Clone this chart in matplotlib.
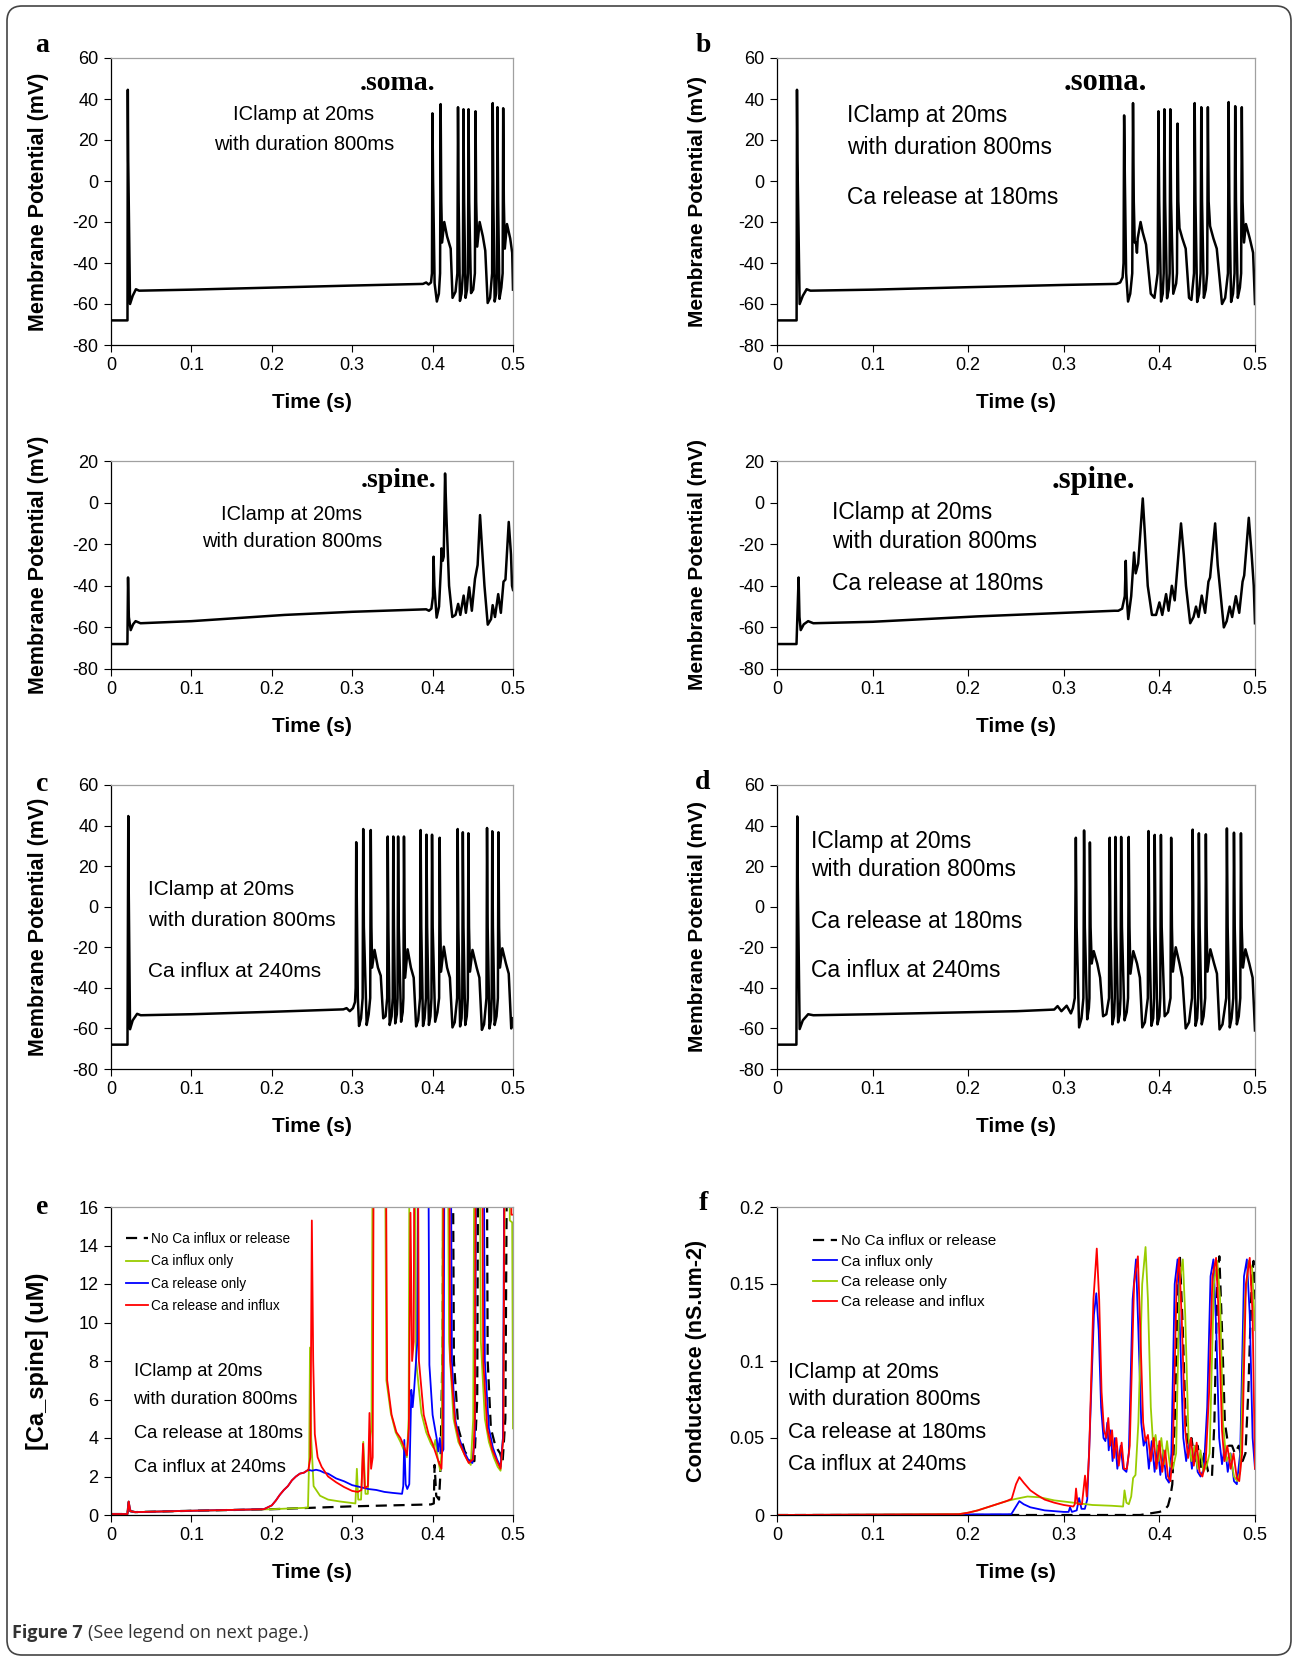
import matplotlib
matplotlib.use('Agg')
import matplotlib.pyplot as plt
from matplotlib.patches import FancyBboxPatch

plt.rcParams['font.family'] = ['Liberation Sans', 'DejaVu Sans']
plt.rcParams['axes.unicode_minus'] = False

## Data (time in s, membrane potential in mV)

soma_a = [(0,-68),(0.0205,-68),(0.0209,44.5),(0.0214,10),(0.0237,-60),(0.027,-56),(0.031,-52.8),(0.035,-53.5),
          (0.1,-53),(0.2,-52),(0.3,-51),(0.388,-50.2),(0.392,-49.5),(0.395,-50.5),(0.398,-49.5),
          (0.3992,-45),(0.3998,33),(0.4006,0),(0.4025,-50),(0.4053,-58.8),(0.4078,-55),(0.4093,-45),(0.41,37.5),
          (0.4108,-10),(0.4118,-30),(0.4145,-20),(0.418,-27),(0.4225,-33),(0.4248,-57),
          (0.4285,-54),(0.4308,-45),(0.4316,36),(0.4324,-10),(0.434,-58.5),(0.436,-55),(0.4377,-45),(0.4384,35),
          (0.4392,-10),(0.441,-57),(0.4428,-53),(0.444,-45),(0.4447,35),(0.4455,-10),(0.4478,-54.7),(0.4505,-53),
          (0.4526,-45),(0.4534,34),(0.4542,-10),(0.4555,-32),(0.4585,-20),(0.4625,-27),(0.4655,-34),(0.4685,-59.5),
          (0.4715,-57),(0.474,-45),(0.4748,38),(0.4756,-10),(0.4772,-58.8),(0.479,-55),(0.48,-45),(0.4807,36),
          (0.4815,-10),(0.4832,-57.5),(0.4855,-52),(0.4871,-45),(0.4878,35.5),(0.4886,-10),(0.4898,-33),
          (0.4925,-21),(0.4965,-28),(0.499,-35),(0.5,-53)]

soma_b = [(0,-68),(0.0205,-68),(0.0209,44.5),(0.0214,10),(0.0237,-60),(0.027,-56),(0.031,-52.8),(0.035,-53.5),
          (0.1,-53),(0.2,-51.8),(0.3,-50.7),(0.355,-50.2),(0.359,-49.5),(0.3615,-47),
          (0.3625,-40),(0.3631,32),(0.3639,0),(0.3652,-45),(0.3672,-58.8),(0.3695,-55),(0.3716,-45),(0.3724,38),
          (0.3732,-10),(0.3742,-30),(0.3755,-30),(0.3765,-35),(0.3773,-28),(0.3803,-20),(0.3825,-25),(0.386,-31),
          (0.391,-55),(0.3948,-57),(0.3982,-45),(0.399,34),(0.3998,-10),(0.4017,-58.8),(0.4035,-55),(0.4045,-45),
          (0.4052,35),(0.406,-10),(0.408,-57.2),(0.4097,-53),(0.4107,-45),(0.4114,35),(0.4122,-10),(0.4145,-55),
          (0.4175,-50),(0.4184,-45),(0.419,28),(0.4198,-10),(0.421,-23),(0.424,-28),(0.4275,-33),(0.431,-57),
          (0.4335,-58),(0.4362,-45),(0.4369,38),(0.4377,-10),(0.4395,-59),(0.4415,-55),(0.4431,-45),(0.4438,36),
          (0.4446,-10),(0.4465,-57),(0.4485,-53),(0.45,-45),(0.4507,36),(0.4515,-10),(0.453,-22),(0.4565,-28),
          (0.46,-33),(0.4655,-60),(0.4688,-57),(0.4717,-45),(0.4724,38.5),(0.4732,-10),(0.475,-59),(0.477,-55),
          (0.4786,-45),(0.4793,36.5),(0.4801,-10),(0.482,-57),(0.4842,-52),(0.4855,-45),(0.4862,36),(0.487,-10),
          (0.4885,-30),(0.4905,-21),(0.4945,-28),(0.498,-35),(0.5,-60)]

spine_a = [(0,-68),(0.0204,-68),(0.0212,-36),(0.0222,-55),(0.0245,-61.3),(0.0275,-58.5),(0.0306,-57),(0.0367,-58),
           (0.1,-57),(0.216,-54),(0.3,-52.5),(0.392,-51.3),(0.3955,-52),(0.3985,-51),(0.4005,-45),(0.4012,-26),
           (0.4022,-40),(0.405,-55.3),(0.408,-50),(0.4105,-30),(0.411,-22),(0.4125,-28),(0.4138,-26),(0.4155,14),
           (0.4175,-10),(0.4205,-40),(0.4245,-55),(0.4285,-54),(0.4318,-48.7),(0.4345,-54),(0.4386,-44.7),
           (0.4414,-53),(0.4455,-40.7),(0.4488,-52),(0.4527,-36.7),(0.456,-30),(0.459,-6),(0.4612,-20),
           (0.4645,-40),(0.4686,-58.7),(0.4727,-56),(0.4747,-49.3),(0.4776,-55),(0.4816,-44),(0.4849,-53),
           (0.4882,-38),(0.4906,-37),(0.4947,-9.3),(0.4975,-25),(0.4988,-40),(0.5,-42)]

spine_b = [(0,-68),(0.0204,-68),(0.0226,-36),(0.0235,-55),(0.0248,-61.3),(0.028,-58.5),(0.0326,-57),(0.038,-58),
           (0.1,-57.3),(0.21,-54.7),(0.3,-53),(0.353,-52),(0.357,-52),(0.361,-51),(0.3638,-45),(0.3648,-28),
           (0.3658,-45),(0.3674,-56),(0.3705,-45),(0.3735,-24),(0.3752,-34),(0.3778,-29.3),(0.3826,2),
           (0.3848,-15),(0.3878,-40),(0.3922,-54),(0.3965,-54),(0.4,-48),(0.403,-54),(0.407,-44),(0.4096,-52),
           (0.413,-40),(0.416,-47),(0.4226,-10),(0.4255,-25),(0.4278,-40),(0.4322,-58),(0.4357,-55),(0.4383,-50),
           (0.4409,-55),(0.4443,-44.7),(0.4478,-53),(0.4513,-38),(0.453,-36),(0.4583,-10),(0.461,-30),
           (0.4674,-60),(0.4704,-57),(0.4735,-50),(0.4761,-55),(0.48,-45),(0.4835,-53),(0.487,-38),(0.4887,-35),
           (0.4935,-7.3),(0.4965,-25),(0.4987,-40),(0.5,-58)]

soma_c = [(0,-68),(0.0205,-68),(0.0215,44.7),(0.022,10),(0.0237,-60.4),(0.027,-56),(0.0325,-52.8),(0.037,-53.5),
          (0.1,-53),(0.2,-51.8),(0.289,-50.6),(0.293,-50),(0.297,-51.5),(0.301,-50),(0.3035,-47),(0.3043,-40),
          (0.305,31.8),(0.3058,0),(0.307,-45),(0.3085,-58.8),(0.311,-55),(0.313,-45),(0.3137,38.3),(0.3145,-10),
          (0.318,-58.3),(0.3205,-53),(0.3224,-45),(0.3231,37.8),(0.3239,-10),(0.3248,-30),(0.3278,-21.3),
          (0.332,-30),(0.3355,-34),(0.3386,-55),(0.3415,-54),(0.3435,-45),(0.3442,34.6),(0.345,-10),(0.3466,-58.3),
          (0.349,-54),(0.3504,-45),(0.3511,34.6),(0.3519,-10),(0.3535,-57.5),(0.3555,-53),(0.3564,-45),
          (0.3571,34.6),(0.3579,-10),(0.3608,-56.7),(0.3628,-52),(0.3637,-45),(0.3644,34.6),(0.3652,-10),
          (0.3658,-35),(0.3689,-21),(0.373,-30),(0.3765,-35),(0.3795,-59),(0.382,-56),(0.3844,-45),(0.3851,37.8),
          (0.3859,-10),(0.3881,-58.8),(0.39,-55),(0.3917,-45),(0.3924,35.5),(0.3932,-10),(0.3954,-58.3),
          (0.3973,-54),(0.3986,-45),(0.3993,35.5),(0.4001,-10),(0.4032,-56.7),(0.406,-52),(0.4081,-45),
          (0.4088,34),(0.4096,-10),(0.4105,-32),(0.414,-19.7),(0.418,-30),(0.4215,-35),(0.4247,-59.5),
          (0.4275,-57),(0.4305,-45),(0.4312,38.3),(0.432,-10),(0.4342,-59),(0.436,-55),(0.4369,-45),(0.4376,36.7),
          (0.4384,-10),(0.4406,-58.3),(0.4425,-54),(0.4438,-45),(0.4445,36.2),(0.4453,-10),(0.4465,-32),
          (0.4496,-21.3),(0.4548,-30),(0.4582,-35),(0.4613,-60.7),(0.464,-58),(0.467,-45),(0.4677,38.8),
          (0.4685,-10),(0.4707,-60),(0.4725,-56),(0.4735,-45),(0.4742,37.2),(0.475,-10),(0.4772,-58.3),
          (0.4795,-54),(0.4812,-45),(0.4819,36.7),(0.4827,-10),(0.4838,-30),(0.4867,-20.5),(0.4912,-28),
          (0.4947,-33),(0.4978,-60),(0.5,-55)]

soma_d = [(0,-68),(0.0203,-68),(0.0212,44.5),(0.0218,10),(0.0237,-60.3),(0.027,-56),(0.0326,-53),(0.038,-53.5),
          (0.1,-53),(0.251,-51.5),(0.29,-50.7),(0.2935,-49),(0.2975,-51.5),(0.303,-48.8),(0.3074,-52.6),
          (0.3095,-50),(0.3115,-45),(0.3126,34),(0.3134,-10),(0.316,-59.5),(0.3185,-55),(0.3205,-45),(0.3212,37.6),
          (0.322,-10),(0.3245,-55.5),(0.3262,-50),(0.3268,-45),(0.3273,31.7),(0.328,-10),(0.3292,-28),
          (0.3313,-21.9),(0.335,-28),(0.338,-35),(0.3411,-54),(0.3445,-53),(0.3473,-45),(0.348,34),(0.3488,-10),
          (0.3508,-58),(0.3525,-54),(0.3533,-45),(0.354,34.4),(0.3548,-10),(0.3568,-57),(0.3585,-53),(0.3593,-45),
          (0.36,34.4),(0.3608,-10),(0.3635,-56),(0.3658,-52),(0.3672,-45),(0.3679,34.4),(0.3687,-10),(0.3697,-33),
          (0.3727,-21.9),(0.3766,-28),(0.3796,-35),(0.3821,-59.5),(0.3848,-57),(0.3879,-45),(0.3886,37.3),
          (0.3894,-10),(0.3916,-58.7),(0.3935,-55),(0.3944,-45),(0.3951,35.4),(0.3959,-10),(0.398,-58),
          (0.4,-54),(0.4009,-45),(0.4016,35.4),(0.4024,-10),(0.4055,-54),(0.409,-52),(0.4116,-45),(0.4123,34),
          (0.4131,-10),(0.4141,-32),(0.4171,-20),(0.421,-28),(0.424,-35),(0.4275,-60),(0.431,-57),(0.4341,-45),
          (0.4348,38),(0.4356,-10),(0.4378,-58.7),(0.4395,-55),(0.4406,-45),(0.4413,36.2),(0.4421,-10),
          (0.4443,-58),(0.4462,-54),(0.4479,-45),(0.4486,35.7),(0.4494,-10),(0.4503,-32),(0.4533,-21),
          (0.4572,-28),(0.4602,-33),(0.4629,-60.5),(0.466,-58),(0.4699,-45),(0.4706,38.6),(0.4714,-10),
          (0.4736,-59.5),(0.4755,-55),(0.4773,-45),(0.478,36.5),(0.4788,-10),(0.481,-58),(0.483,-54),
          (0.4846,-45),(0.4853,36.2),(0.4861,-10),(0.4874,-30),(0.49,-21),(0.494,-28),(0.4975,-35),(0.5,-61)]

## [Ca_spine] (uM); values above 16 run off the top of the axes
ca_none = [(0,0.05),(0.0205,0.05),(0.022,0.7),(0.024,0.2),(0.03,0.15),(0.1,0.22),(0.2,0.3),(0.3,0.45),(0.398,0.55),
           (0.4015,0.6),(0.4025,2.6),(0.4045,1.0),(0.408,0.8),(0.4095,2.0),(0.4125,9),(0.4145,30),(0.424,30),
           (0.4265,8),(0.432,4.5),(0.44,3.3),(0.4485,2.8),(0.452,2.8),(0.4555,6),(0.4575,30),(0.4665,30),
           (0.4685,8),(0.4725,4.5),(0.478,3.6),(0.484,3.2),(0.487,2.7),(0.4905,5),(0.494,30),(0.5,30)]
ca_influx = [(0,0.05),(0.0205,0.05),(0.022,0.7),(0.024,0.2),(0.03,0.15),(0.1,0.22),(0.2,0.3),(0.245,0.38),
             (0.2465,3),(0.2475,8.7),(0.249,4),(0.252,1.5),(0.26,1.0),(0.27,0.8),(0.285,0.7),(0.304,0.6),
             (0.3058,2.4),(0.3075,0.8),(0.311,0.8),(0.3138,3.8),(0.3165,1.1),(0.3195,1.1),(0.321,3.5),(0.3225,4.0),
             (0.324,4.5),(0.3265,30),(0.3395,30),(0.3425,7),(0.348,5.3),(0.354,4.3),(0.36,3.8),(0.365,3.3),
             (0.368,3.0),(0.3702,5),(0.372,30),(0.377,30),(0.3795,8),(0.386,5.3),(0.392,4.3),(0.398,3.7),
             (0.401,3.5),(0.4035,3.9),(0.4065,2.9),(0.4095,2.3),(0.4115,3.5),(0.4135,30),(0.4175,30),(0.4205,9),
             (0.426,5),(0.432,3.8),(0.438,3.3),(0.444,2.8),(0.4475,2.6),(0.4505,5),(0.4515,15.5),(0.4535,30),
             (0.4575,30),(0.46,9),(0.465,5),(0.47,3.8),(0.476,3.0),(0.481,2.5),(0.4845,2.3),(0.4875,4),
             (0.4895,15.8),(0.4915,30),(0.495,30),(0.496,15.3),(0.499,15.2),(0.5,4.5)]
ca_release = [(0,0.05),(0.0205,0.05),(0.022,0.7),(0.024,0.2),(0.03,0.15),(0.1,0.22),(0.19,0.3),(0.2,0.5),
              (0.205,0.75),(0.21,1.05),(0.215,1.3),(0.22,1.5),(0.225,1.8),(0.23,2.0),(0.235,2.15),(0.24,2.2),
              (0.2455,2.35),(0.25,2.3),(0.255,2.35),(0.26,2.3),(0.265,2.2),(0.27,2.15),(0.28,1.9),(0.29,1.75),
              (0.3,1.55),(0.31,1.45),(0.32,1.35),(0.33,1.3),(0.34,1.2),(0.35,1.15),(0.362,1.1),(0.3635,1.5),
              (0.3648,3.9),(0.3665,1.6),(0.3685,1.35),(0.371,1.6),(0.3735,6.5),(0.3752,5.6),(0.377,6.5),
              (0.381,9),(0.3835,30),(0.3935,30),(0.396,7.8),(0.4,5.2),(0.4025,4.6),(0.405,4.0),(0.407,3.3),
              (0.409,4.0),(0.411,3.2),(0.4135,3.4),(0.4155,30),(0.4215,30),(0.424,8),(0.428,5),(0.433,4),
              (0.438,3.4),(0.444,2.9),(0.4495,2.7),(0.4525,4),(0.4555,30),(0.4625,30),(0.465,8),(0.47,4.5),
              (0.475,3.5),(0.48,2.9),(0.4845,2.5),(0.4875,4),(0.4905,30),(0.5,30)]
ca_both = [(0,0.05),(0.0205,0.05),(0.022,0.7),(0.024,0.2),(0.03,0.15),(0.1,0.22),(0.19,0.3),(0.2,0.5),
           (0.205,0.75),(0.21,1.05),(0.215,1.3),(0.22,1.5),(0.225,1.8),(0.23,2.0),(0.235,2.15),(0.24,2.2),
           (0.2455,2.35),(0.248,3),(0.2498,15.3),(0.2515,8),(0.2535,4.2),(0.257,3.0),(0.262,2.5),(0.27,2.0),
           (0.28,1.7),(0.29,1.45),(0.3,1.25),(0.307,1.2),(0.3115,1.3),(0.3135,3.7),(0.3155,1.4),(0.3195,1.5),
           (0.3215,5.3),(0.3235,2.4),(0.3255,3),(0.3275,30),(0.3405,30),(0.3435,7),(0.349,5.2),(0.355,4.3),
           (0.36,4.0),(0.365,3.5),(0.368,3.1),(0.3705,4.5),(0.3725,15.7),(0.3745,8),(0.3765,9),(0.378,30),
           (0.3805,30),(0.383,8),(0.389,5.2),(0.395,4.2),(0.4,3.7),(0.404,3.2),(0.408,2.7),(0.411,2.4),
           (0.4125,4),(0.4145,30),(0.4195,30),(0.422,8),(0.428,4.8),(0.434,3.7),(0.44,3.1),(0.445,2.7),
           (0.4505,2.9),(0.4525,5),(0.4545,30),(0.4605,30),(0.463,8),(0.468,4.5),(0.474,3.4),(0.48,2.8),
           (0.4845,2.4),(0.488,4),(0.4905,30),(0.4965,30),(0.498,15.6),(0.5,15.6)]

## Conductance (nS.um-2)
g_none = [(0,0),(0.38,0),(0.39,0.001),(0.4,0.002),(0.405,0.003),(0.409,0.006),(0.4115,0.012),(0.4135,0.02),
          (0.416,0.06),(0.4195,0.15),(0.4215,0.167),(0.4245,0.12),(0.4275,0.06),(0.4305,0.045),(0.4335,0.05),
          (0.437,0.035),(0.44,0.045),(0.444,0.03),(0.447,0.04),(0.451,0.028),(0.455,0.025),(0.4575,0.06),
          (0.4605,0.15),(0.4627,0.168),(0.4655,0.12),(0.4685,0.06),(0.472,0.045),(0.476,0.045),(0.479,0.04),
          (0.483,0.045),(0.487,0.035),(0.49,0.04),(0.493,0.08),(0.4965,0.15),(0.4985,0.165),(0.5,0.14)]
g_influx = [(0,0),(0.245,0.0005),(0.2505,0.006),(0.2535,0.009),(0.258,0.007),(0.265,0.005),(0.28,0.003),
            (0.3,0.002),(0.305,0.002),(0.3065,0.005),(0.3085,0.002),(0.3135,0.003),(0.316,0.011),(0.3185,0.004),
            (0.322,0.004),(0.3245,0.01),(0.327,0.05),(0.3315,0.13),(0.334,0.144),(0.3365,0.12),(0.339,0.07),
            (0.3415,0.05),(0.3435,0.048),(0.3455,0.06),(0.347,0.042),(0.349,0.055),(0.351,0.035),(0.3535,0.05),
            (0.356,0.03),(0.3595,0.045),(0.362,0.03),(0.3655,0.028),(0.368,0.04),(0.372,0.14),(0.3755,0.166),
            (0.378,0.12),(0.381,0.06),(0.3835,0.045),(0.386,0.05),(0.389,0.03),(0.392,0.048),(0.395,0.028),
            (0.398,0.045),(0.401,0.026),(0.404,0.042),(0.407,0.024),(0.41,0.021),(0.4125,0.04),(0.416,0.15),
            (0.419,0.166),(0.4215,0.12),(0.425,0.05),(0.428,0.035),(0.431,0.048),(0.434,0.03),(0.437,0.045),
            (0.44,0.028),(0.443,0.025),(0.4465,0.03),(0.45,0.07),(0.4535,0.155),(0.4565,0.166),(0.4595,0.12),
            (0.4625,0.05),(0.4655,0.033),(0.4685,0.045),(0.4715,0.028),(0.4745,0.04),(0.478,0.022),(0.481,0.02),
            (0.4845,0.04),(0.4885,0.155),(0.4915,0.166),(0.4945,0.13),(0.4975,0.05),(0.5,0.03)]
g_release = [(0,0),(0.19,0.0005),(0.2,0.0015),(0.21,0.003),(0.22,0.005),(0.23,0.007),(0.24,0.009),(0.25,0.0105),
             (0.262,0.012),(0.275,0.0115),(0.29,0.0095),(0.31,0.008),(0.33,0.0065),(0.35,0.006),(0.362,0.0055),
             (0.3635,0.016),(0.3655,0.008),(0.368,0.007),(0.3705,0.012),(0.3725,0.024),(0.375,0.026),(0.378,0.06),
             (0.382,0.15),(0.3855,0.174),(0.388,0.14),(0.391,0.07),(0.3935,0.045),(0.396,0.052),(0.399,0.035),
             (0.402,0.05),(0.405,0.033),(0.408,0.048),(0.411,0.032),(0.414,0.03),(0.4175,0.04),(0.421,0.15),
             (0.4245,0.166),(0.427,0.13),(0.4305,0.05),(0.4335,0.035),(0.437,0.045),(0.44,0.03),(0.443,0.042),
             (0.446,0.028),(0.4495,0.032),(0.4525,0.04),(0.457,0.15),(0.4605,0.165),(0.4635,0.14),(0.4665,0.06),
             (0.47,0.035),(0.474,0.04),(0.478,0.025),(0.4815,0.022),(0.4845,0.028),(0.4895,0.14),(0.4935,0.165),
             (0.497,0.16),(0.5,0.12)]
g_both = [(0,0),(0.19,0.0005),(0.2,0.0015),(0.21,0.003),(0.22,0.005),(0.23,0.007),(0.24,0.009),(0.2455,0.0105),
          (0.25,0.02),(0.2535,0.0246),(0.258,0.021),(0.265,0.016),(0.272,0.013),(0.28,0.01),(0.29,0.008),
          (0.3,0.0065),(0.31,0.0055),(0.3115,0.007),(0.3128,0.0172),(0.3145,0.007),(0.319,0.007),(0.3222,0.0256),
          (0.324,0.012),(0.3265,0.04),(0.331,0.14),(0.3345,0.173),(0.337,0.14),(0.3395,0.08),(0.342,0.055),
          (0.3445,0.05),(0.3465,0.063),(0.3485,0.045),(0.3505,0.055),(0.3525,0.037),(0.355,0.05),(0.3575,0.032),
          (0.3605,0.047),(0.363,0.03),(0.366,0.03),(0.369,0.045),(0.3735,0.15),(0.3775,0.168),(0.38,0.12),
          (0.383,0.06),(0.3855,0.048),(0.388,0.052),(0.391,0.035),(0.394,0.05),(0.397,0.03),(0.4,0.048),
          (0.403,0.028),(0.406,0.042),(0.409,0.025),(0.4115,0.022),(0.414,0.04),(0.418,0.15),(0.4207,0.167),
          (0.4235,0.125),(0.427,0.055),(0.43,0.037),(0.433,0.05),(0.436,0.032),(0.439,0.047),(0.442,0.028),
          (0.445,0.025),(0.4485,0.035),(0.452,0.08),(0.4555,0.155),(0.4593,0.167),(0.462,0.13),(0.4655,0.055),
          (0.468,0.035),(0.471,0.045),(0.4745,0.03),(0.4775,0.04),(0.481,0.024),(0.4835,0.022),(0.4865,0.04),
          (0.4905,0.15),(0.4945,0.167),(0.4975,0.13),(0.5,0.03)]

x_ticks = [0, 0.1, 0.2, 0.3, 0.4, 0.5]
x_labels = ['0', '0.1', '0.2', '0.3', '0.4', '0.5']
vm_ticks = [-80, -60, -40, -20, 0, 20, 40, 60]
vm_spine_ticks = [-80, -60, -40, -20, 0, 20]
ca_ticks = [0, 2, 4, 6, 8, 10, 12, 14, 16]
g_ticks = [0, 0.05, 0.1, 0.15, 0.2]
g_labels = ['0', '0.05', '0.1', '0.15', '0.2']

legend_e = ['No Ca influx or release', 'Ca influx only', 'Ca release only', 'Ca release and influx']
legend_f = ['No Ca influx or release', 'Ca influx only', 'Ca release only', 'Ca release and influx']
notes = ['IClamp at 20ms', 'with duration 800ms', 'Ca release at 180ms', 'Ca influx at 240ms']

GREEN = '#99cc00'
W, H = 1295, 1663
fig = plt.figure(figsize=(W/100., H/100.), dpi=100)
serif = ['Liberation Serif', 'DejaVu Serif']


def box(l, t, r, b):
    return fig.add_axes([l/float(W), 1-b/float(H), (r-l)/float(W), (b-t)/float(H)])


def style(ax, ylim, yticks, ylabels, ylabel, ylab_px, ylab_size):
    ax.set_xlim(0, 0.5)
    ax.set_ylim(*ylim)
    ax.set_xticks(x_ticks)
    ax.set_xticklabels(x_labels)
    ax.set_yticks(yticks)
    ax.set_yticklabels(ylabels)
    ax.tick_params(direction='out', length=5, width=0.8, labelsize=13, pad=4)
    for s in ['top', 'right']:
        ax.spines[s].set_color('#a0a0a0')
        ax.spines[s].set_linewidth(0.9)
    for s in ['left', 'bottom']:
        ax.spines[s].set_color('black')
        ax.spines[s].set_linewidth(0.9)
    ax.set_ylabel(ylabel, fontsize=ylab_size, fontweight='bold')
    bb = ax.get_position()
    ax.yaxis.set_label_coords(-ylab_px/(bb.width*W), 0.5)
    ax.set_xlabel('Time (s)', fontsize=15, fontweight='bold')
    ax.xaxis.set_label_coords(0.5, -48/(bb.height*H))


def trace(ax, pts, **kw):
    t = [p[0] for p in pts]
    v = [p[1] for p in pts]
    ax.plot(t, v, **kw)


def lines(ax, x, ys, texts, size, ha='left'):
    for yy, s in zip(ys, texts):
        ax.text(x, yy, s, ha=ha, va='center', fontsize=size)


vm_labels = [str(v) for v in vm_ticks]
vms_labels = [str(v) for v in vm_spine_ticks]
LEFT_TXT, RIGHT_TXT = 14.5, 16.5

# row 1 : soma
ax = box(111, 58, 513, 345)
trace(ax, soma_a, color='black', lw=1.8)
style(ax, (-80, 60), vm_ticks, vm_labels, 'Membrane Potential (mV)', 62, 15.5)
lines(ax, 0.24, [32.5, 18], notes[:2], LEFT_TXT, ha='center')
ax.text(0.356, 47.5, '.soma.', ha='center', va='center', fontsize=20, fontweight='bold', family=serif)

ax = box(777, 58, 1255, 345)
trace(ax, soma_b, color='black', lw=1.8)
style(ax, (-80, 60), vm_ticks, vm_labels, 'Membrane Potential (mV)', 70, 15)
lines(ax, 0.073, [31.8, 16.3, -8.2], notes[:3], RIGHT_TXT)
ax.text(0.343, 48, '.soma.', ha='center', va='center', fontsize=22, fontweight='bold', family=serif)

# row 2 : spine
ax = box(111, 461, 513, 669)
trace(ax, spine_a, color='black', lw=1.8)
style(ax, (-80, 20), vm_spine_ticks, vms_labels, 'Membrane Potential (mV)', 62, 15.5)
lines(ax, 0.225, [-5.5, -18.5], notes[:2], LEFT_TXT, ha='center')
ax.text(0.358, 10.7, '.spine.', ha='center', va='center', fontsize=20, fontweight='bold', family=serif)

ax = box(777, 461, 1255, 669)
trace(ax, spine_b, color='black', lw=1.8)
style(ax, (-80, 20), vm_spine_ticks, vms_labels, 'Membrane Potential (mV)', 70, 15)
lines(ax, 0.0574, [-5, -18.5, -39], notes[:3], RIGHT_TXT)
ax.text(0.331, 10.7, '.spine.', ha='center', va='center', fontsize=22, fontweight='bold', family=serif)

# row 3
ax = box(111, 785, 513, 1069)
trace(ax, soma_c, color='black', lw=1.8)
style(ax, (-80, 60), vm_ticks, vm_labels, 'Membrane Potential (mV)', 62, 15.5)
lines(ax, 0.046, [8.5, -6.8, -31.7], [notes[0], notes[1], notes[3]], 15)

ax = box(777, 785, 1255, 1069)
trace(ax, soma_d, color='black', lw=1.8)
style(ax, (-80, 60), vm_ticks, vm_labels, 'Membrane Potential (mV)', 70, 15)
lines(ax, 0.0354, [32.2, 18.1, -7.2, -31.5], notes, RIGHT_TXT)

# row 4 : e
ax = box(111, 1207, 513, 1515)
trace(ax, ca_none, color='black', lw=1.6, ls=(0, (5, 3)), label=legend_e[0])
trace(ax, ca_influx, color=GREEN, lw=1.3, label=legend_e[1])
trace(ax, ca_release, color='#0000ff', lw=1.3, label=legend_e[2])
trace(ax, ca_both, color='#ff0000', lw=1.3, label=legend_e[3])
style(ax, (0, 16), ca_ticks, [str(v) for v in ca_ticks], '[Ca_spine] (uM)', 62, 17)
ax.legend(loc='upper left', bbox_to_anchor=(0.037, 0.918), frameon=False, fontsize=9.8,
          handlelength=1.6, handletextpad=0.25, labelspacing=0.6, borderaxespad=0, borderpad=0)
lines(ax, 0.028, [7.43, 5.99, 4.21, 2.47], notes, 13.2)

# row 4 : f
ax = box(777, 1207, 1255, 1515)
trace(ax, g_none, color='black', lw=1.6, ls=(0, (5, 3)), label=legend_f[0])
trace(ax, g_influx, color='#0000ff', lw=1.3, label=legend_f[1])
trace(ax, g_release, color=GREEN, lw=1.3, label=legend_f[2])
trace(ax, g_both, color='#ff0000', lw=1.3, label=legend_f[3])
style(ax, (0, 0.2), g_ticks, g_labels, 'Conductance (nS.um-2)', 70, 15.5)
ax.legend(loc='upper left', bbox_to_anchor=(0.075, 0.912), frameon=False, fontsize=11,
          handlelength=1.6, handletextpad=0.27, labelspacing=0.42, borderaxespad=0, borderpad=0)
lines(ax, 0.0116, [0.0923, 0.0749, 0.0535, 0.0325], notes, 15.5)

# panel letters
for s, x, y in [('a', 42, 45), ('b', 703, 45), ('c', 42, 785), ('d', 703, 782), ('e', 42, 1207), ('f', 703, 1204)]:
    fig.text(x/float(W), 1-y/float(H), s, fontsize=20, fontweight='bold', family=serif, ha='center', va='center')

# caption and frame
fig.text(12/float(W), 1-1633/float(H), 'Figure 7', fontsize=13, fontweight='bold', color='#333333',
         family=['Open Sans', 'DejaVu Sans'], va='center')
fig.text(88/float(W), 1-1633/float(H), '(See legend on next page.)', fontsize=13, color='#333333',
         family=['Open Sans', 'DejaVu Sans'], va='center')
frame = FancyBboxPatch((0.07, 0.08), 12.84, 16.49, boxstyle='round,pad=0,rounding_size=0.15',
                       transform=fig.dpi_scale_trans, fill=False, ec='#444444', lw=1.2)
fig.patches.append(frame)

plt.savefig('out.png', dpi=100)
